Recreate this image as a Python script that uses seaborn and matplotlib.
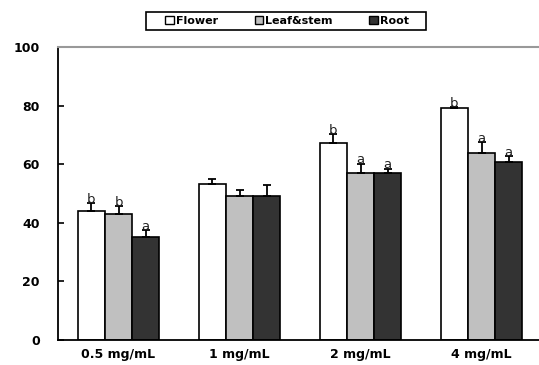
import matplotlib
matplotlib.use("Agg")
import matplotlib.pyplot as plt
from matplotlib.patches import Patch, Rectangle
import seaborn as sns
import pandas as pd
import numpy as np

categories = ["0.5 mg/mL", "1 mg/mL", "2 mg/mL", "4 mg/mL"]
series = ["Flower", "Leaf&stem", "Root"]
flower = [44.1, 53.1, 67.1, 79.1]
leaf_stem = [43.0, 49.1, 56.9, 63.9]
root = [35.3, 49.1, 56.9, 60.9]
flower_err = [2.5, 1.8, 3.2, 0.5]
leaf_stem_err = [2.7, 2.1, 3.3, 3.7]
root_err = [2.2, 3.9, 1.6, 1.9]
flower_lbl = ["b", "", "b", "b"]
leaf_stem_lbl = ["b", "", "a", "a"]
root_lbl = ["a", "", "a", "a"]
y_ticks = [0, 20, 40, 60, 80, 100]

colors = ["#ffffff", "#c0c0c0", "#333333"]

rows = []
for s, vals in zip(series, [flower, leaf_stem, root]):
    for c, v in zip(categories, vals):
        rows.append({"cat": c, "series": s, "value": v})
df = pd.DataFrame(rows)

sns.set_style("white")
plt.rcParams["font.family"] = ["DejaVu Sans"]
plt.rcParams["text.color"] = "black"
plt.rcParams["xtick.color"] = "black"
plt.rcParams["ytick.color"] = "black"
plt.rcParams["xtick.labelcolor"] = "black"
plt.rcParams["ytick.labelcolor"] = "black"

W, H = 539, 365
fig = plt.figure(figsize=(W / 100, H / 100), dpi=100)
ax = fig.add_axes([58 / W, 25 / H, 484 / W, 293 / H])

sns.barplot(data=df, x="cat", y="value", hue="series", order=categories,
            hue_order=series, palette=colors, width=0.67, errorbar=None,
            edgecolor="black", linewidth=1.2, saturation=1, ax=ax, legend=False)

errs = [flower_err, leaf_stem_err, root_err]
lbls = [flower_lbl, leaf_stem_lbl, root_lbl]
for cont, err, lb in zip(ax.containers, errs, lbls):
    xs = [p.get_x() + p.get_width() / 2 for p in cont.patches]
    hs = [p.get_height() for p in cont.patches]
    ax.errorbar(xs, hs, yerr=[np.zeros(len(err)), err], fmt="none",
                ecolor="black", elinewidth=1.3, capsize=3, capthick=1.3, zorder=1)
    for x, h, e, t in zip(xs, hs, err, lb):
        if t:
            ax.annotate(t, (x, h + e), xytext=(0, -2), textcoords="offset points",
                        ha="center", va="bottom", fontsize=9.5, color="#222222")

ax.set_ylim(0, 100)
ax.set_xlim(-0.5, 3.5)
ax.set_yticks(y_ticks)
ax.set_yticklabels([str(v) for v in y_ticks], fontsize=9, fontweight="bold", color="black")
ax.set_xticks(range(len(categories)))
ax.set_xticklabels(categories, fontsize=9, fontweight="bold", color="black")
ax.set_xticks([0.5, 1.5, 2.5], minor=True)
ax.tick_params(axis="x", which="major", length=0, pad=6)
ax.tick_params(axis="x", which="minor", direction="in", length=4, width=1.2, color="black")
ax.tick_params(axis="y", which="major", direction="in", length=4, width=1.2,
               color="black", pad=13, left=True)
ax.set_xlabel("")
ax.set_ylabel("")
ax.spines["left"].set_color("black")
ax.spines["left"].set_linewidth(1.3)
ax.spines["bottom"].set_color("black")
ax.spines["bottom"].set_linewidth(1.3)
ax.spines["top"].set_color("#999999")
ax.spines["top"].set_linewidth(1.5)
ax.spines["right"].set_visible(False)
ax.grid(False)

handles = [Patch(facecolor=c, edgecolor="black", linewidth=1.0, label=s)
           for c, s in zip(colors, series)]
leg = fig.legend(handles=handles, loc="center", bbox_to_anchor=(287 / W, 1 - 21 / H),
                 ncol=3, frameon=False,
                 handlelength=0.8, handleheight=0.8, handletextpad=0.15,
                 columnspacing=3.3, borderpad=0.2, borderaxespad=0,
                 prop={"size": 8, "weight": "bold"})
for t in leg.get_texts():
    t.set_color("black")
fig.patches.append(Rectangle((146 / W, 1 - 30 / H), 280 / W, 18 / H,
                             transform=fig.transFigure, fill=False,
                             edgecolor="black", linewidth=1.2))

fig.savefig("out.png", dpi=100)
